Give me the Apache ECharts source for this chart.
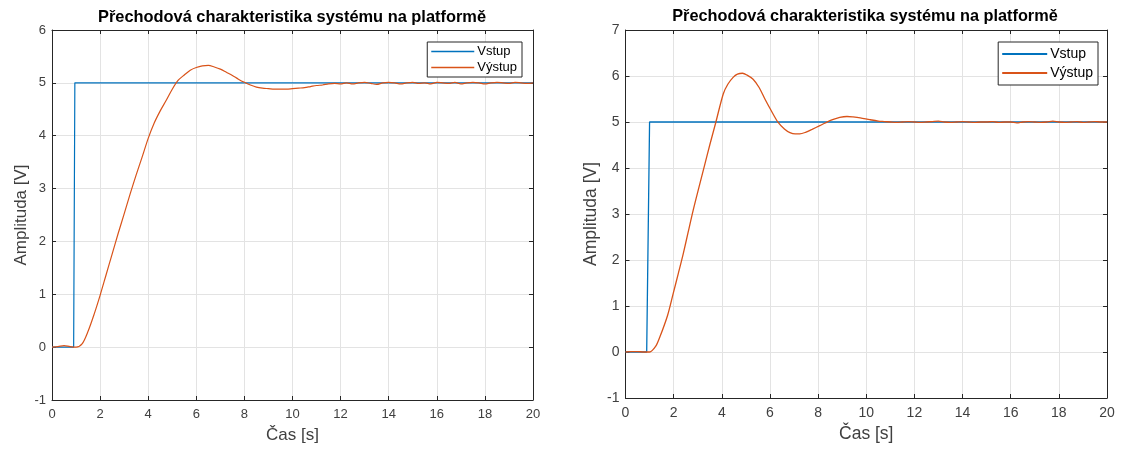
<!DOCTYPE html>
<html>
<head>
<meta charset="utf-8">
<script src="https://cdn.jsdelivr.net/npm/echarts@6/dist/echarts.min.js"></script>
<style>
html,body{margin:0;padding:0;background:#fff;}
#chart{width:1124px;height:450px;}
</style>
</head>
<body>
<div id="chart"></div>
<script>
// ---- data ----
const titleText = 'Přechodová charakteristika systému na platformě';
const xName = 'Čas [s]';
const yName = 'Amplituda [V]';
const seriesNames = ['Vstup', 'Výstup'];

// left chart
const leftInputTime = [0, 0.9, 0.95, 20];
const leftInputValue = [0, 0, 5, 5];
const leftOutputTime = [0,0.25,0.5,0.75,1.0,1.25,1.5,1.75,2.0,2.25,2.5,2.75,3.0,3.25,3.5,3.75,4.0,4.25,4.5,4.75,5.0,5.25,5.5,5.75,6.0,6.25,6.5,6.75,7.0,7.25,7.5,7.75,8.0,8.25,8.5,8.75,9.0,9.25,9.5,9.75,10.0,10.25,10.5,10.75,11.0,11.25,11.5,11.75,12.0,
  12.25,12.5,12.75,13.0,13.25,13.5,13.75,14.0,14.25,14.5,14.75,15.0,15.25,15.5,15.75,16.0,16.25,16.5,16.75,17.0,17.25,17.5,17.75,18.0,18.25,18.5,18.75,19.0,19.25,19.5,19.75,20.0];
const leftOutputValue = [0,0.01,0.03,0.01,0.0,0.06,0.3,0.62,0.98,1.37,1.76,2.15,2.52,2.9,3.26,3.6,3.95,4.24,4.47,4.67,4.88,5.05,5.15,5.24,5.29,5.32,5.33,5.3,5.26,5.2,5.14,5.07,5.01,4.96,4.92,4.9,4.89,4.88,4.88,4.88,4.89,4.9,4.91,4.93,4.95,4.96,4.98,4.99,4.98,
  5.0,4.98,5.0,5.01,4.99,4.97,5.0,5.01,5.0,4.98,5.0,5.01,4.99,5.0,4.98,5.01,5.0,4.99,5.01,4.98,5.0,5.01,5.0,4.98,5.0,5.01,5.0,4.99,5.01,5.0,4.99,5.0];

// right chart
const rightInputTime = [0, 0.88, 1.0, 20];
const rightInputValue = [0, 0, 5, 5];
const rightOutputTime = [0,0.25,0.5,0.75,1.0,1.25,1.43,1.75,1.98,2.2,2.4,2.6,2.81,3.05,3.3,3.5,3.75,4.06,4.25,4.47,4.65,4.86,5.05,5.3,5.55,5.79,6.05,6.34,6.6,6.83,7.05,7.24,7.5,7.75,8.07,8.3,8.6,8.9,9.2,9.45,9.75,10.15,10.5,10.75,11.0,
  11.25,11.5,11.75,12.0,12.25,12.5,12.75,13.0,13.25,13.5,13.75,14.0,14.25,14.5,14.75,15.0,15.25,15.5,15.75,16.0,16.25,16.5,16.75,17.0,17.25,17.5,17.75,18.0,18.25,18.5,18.75,19.0,19.25,19.5,19.75,20.0];
const rightOutputValue = [0,0.01,0.01,0.0,0.0,0.12,0.33,0.8,1.27,1.72,2.14,2.6,3.08,3.58,4.09,4.5,4.99,5.61,5.82,5.97,6.04,6.06,6.02,5.93,5.75,5.5,5.25,4.99,4.85,4.77,4.74,4.74,4.78,4.84,4.92,4.98,5.05,5.1,5.12,5.11,5.09,5.05,5.02,5.01,5.0,
  4.99,5.0,5.01,5.0,4.99,5.0,5.01,5.02,5.0,4.99,5.0,5.01,5.0,4.99,5.0,5.0,5.01,4.99,5.0,5.0,4.98,5.0,5.01,5.0,4.99,5.0,5.02,5.0,4.99,5.0,5.01,4.99,5.0,5.01,5.0,5.0];

const xTicks = {min: 0, max: 20, interval: 2};
const leftY = {min: -1, max: 6, interval: 1};
const rightY = {min: -1, max: 7, interval: 1};

// ---- build ----
const zip = (a, b) => a.map((v, i) => [v, b[i]]);
const BLUE = '#0072BD', ORANGE = '#D95319';
const AX = '#262626', TXT = '#404040', GRID = '#e3e3e3';
const FONT = '"Liberation Sans", Arial, sans-serif';

function axesFor(gi, yr, fs, nameFs, xGap, yGap) {
  const xs = [
    {type:'value', gridIndex:gi, position:'bottom', min:xTicks.min, max:xTicks.max, interval:xTicks.interval,
     name:xName, nameLocation:'middle', nameGap:xGap, nameTextStyle:{fontSize:nameFs, color:TXT, fontFamily:FONT},
     axisLine:{show:true, onZero:false, lineStyle:{color:AX}}, axisTick:{inside:true, length:4, lineStyle:{color:AX}},
     axisLabel:{fontSize:fs, color:TXT, fontFamily:FONT, margin:8},
     splitLine:{show:true, lineStyle:{color:GRID}}},
    {type:'value', gridIndex:gi, position:'top', min:xTicks.min, max:xTicks.max, interval:xTicks.interval,
     axisLine:{show:true, onZero:false, lineStyle:{color:AX}}, axisTick:{inside:true, length:4, lineStyle:{color:AX}},
     axisLabel:{show:false}, splitLine:{show:false}}
  ];
  const ys = [
    {type:'value', gridIndex:gi, position:'left', min:yr.min, max:yr.max, interval:yr.interval,
     name:yName, nameLocation:'middle', nameGap:yGap, nameTextStyle:{fontSize:nameFs, color:TXT, fontFamily:FONT},
     axisLine:{show:true, onZero:false, lineStyle:{color:AX}}, axisTick:{inside:true, length:4, lineStyle:{color:AX}},
     axisLabel:{fontSize:fs, color:TXT, fontFamily:FONT, margin:6},
     splitLine:{show:true, lineStyle:{color:GRID}}},
    {type:'value', gridIndex:gi, position:'right', min:yr.min, max:yr.max, interval:yr.interval,
     axisLine:{show:true, onZero:false, lineStyle:{color:AX}}, axisTick:{inside:true, length:4, lineStyle:{color:AX}},
     axisLabel:{show:false}, splitLine:{show:false}}
  ];
  return {xs, ys};
}

const A = axesFor(0, leftY, 13, 17, 27, 22);
const B = axesFor(1, rightY, 14, 17.5, 27, 25);

const option = {
  backgroundColor: '#fff',
  animation: false,
  title: [
    {text:titleText, left:287, top:4, textAlign:'center', textStyle:{fontSize:16.4, fontWeight:'bold', color:'#000', fontFamily:FONT}},
    {text:titleText, left:860, top:4, textAlign:'center', textStyle:{fontSize:16.3, fontWeight:'bold', color:'#000', fontFamily:FONT}}
  ],
  grid: [
    {left:52, top:30, width:481, height:370, show:false},
    {left:625.5, top:30, width:481.5, height:368, show:false}
  ],
  legend: [
    {data:seriesNames, orient:'vertical', right:1124-522, top:42, icon:'rect', itemWidth:43, itemHeight:1.5, itemGap:3,
     borderColor:AX, borderWidth:1, padding:[3,5,3,4], backgroundColor:'#fff',
     textStyle:{fontSize:13, color:'#000', fontFamily:FONT, padding:[0,0,0,-2]}},
    {data:seriesNames, orient:'vertical', right:1124-1098, top:42, icon:'rect', itemWidth:45, itemHeight:2, itemGap:5,
     borderColor:AX, borderWidth:1, padding:[5,5,5,4], backgroundColor:'#fff',
     textStyle:{fontSize:14, color:'#000', fontFamily:FONT, padding:[0,0,0,-2]}}
  ],
  xAxis: [...A.xs, ...B.xs],
  yAxis: [...A.ys, ...B.ys],
  series: [
    {name:seriesNames[0], type:'line', xAxisIndex:0, yAxisIndex:0, data:zip(leftInputTime, leftInputValue), symbol:'none', lineStyle:{color:BLUE, width:1.2}, itemStyle:{color:BLUE}},
    {name:seriesNames[1], type:'line', xAxisIndex:0, yAxisIndex:0, data:zip(leftOutputTime, leftOutputValue), symbol:'none', smooth:0.3, lineStyle:{color:ORANGE, width:1.2}, itemStyle:{color:ORANGE}},
    {name:seriesNames[0], type:'line', xAxisIndex:2, yAxisIndex:2, data:zip(rightInputTime, rightInputValue), symbol:'none', lineStyle:{color:BLUE, width:1.3}, itemStyle:{color:BLUE}},
    {name:seriesNames[1], type:'line', xAxisIndex:2, yAxisIndex:2, data:zip(rightOutputTime, rightOutputValue), symbol:'none', smooth:0.3, lineStyle:{color:ORANGE, width:1.3}, itemStyle:{color:ORANGE}}
  ]
};

const chart = echarts.init(document.getElementById('chart'), null, {renderer:'canvas'});
chart.setOption(option);
</script>
</body>
</html>
